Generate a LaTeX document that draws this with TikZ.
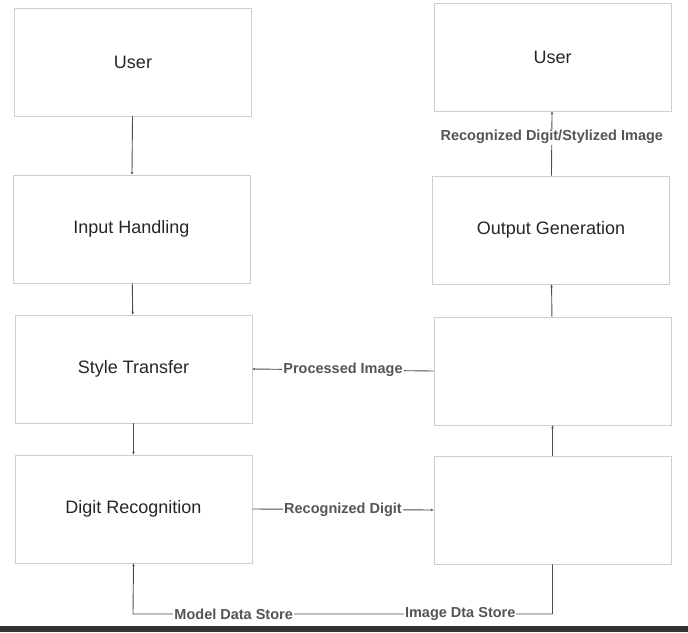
\documentclass[tikz,border=0pt]{standalone}
\usepackage{fontspec}
\setmainfont{Liberation Sans}
\usepackage{tikz}
\usetikzlibrary{arrows.meta, positioning}
\definecolor{BoxLine}{HTML}{CFCFCF}
\definecolor{FlowLine}{HTML}{4D4D4D}
\definecolor{FlowText}{HTML}{555555}
\definecolor{Band}{HTML}{333333}

\begin{document}
\begin{tikzpicture}[x=1pt, y=-1pt,
    block/.style={draw=BoxLine, line width=0.8pt, minimum width=237pt, minimum height=108pt,
                  font=\fontsize{18}{20}\selectfont, text=black!85},
    flow/.style={draw=FlowLine, line width=0.9pt, -{Stealth[length=3pt, width=2.5pt]}},
    tag/.style={fill=white, inner sep=1pt, text=FlowText, font=\bfseries\fontsize{14.5}{16}\selectfont}]
    \useasboundingbox (0,0) rectangle (688,632);
    % left column
    \node[block] (userA) at (133,62) {User};
    \node[block] (input) at (131.5,229) {Input Handling};
    \node[block] (style) at (133.5,369) {Style Transfer};
    \node[block] (digit) at (133.5,509) {Digit Recognition};
    % right column
    \node[block] (userB) at (552.5,57) {User};
    \node[block] (output) at (551,230) {Output Generation};
    \node[block] (procA) at (552.5,371) {};
    \node[block] (procB) at (552.5,510) {};
    % vertical flow
    \draw[flow] (userA) -- (input);
    \draw[flow] (input) -- (style);
    \draw[flow] (style) -- (digit);
    \draw[flow] (procB) -- (procA);
    \draw[flow] (procA) -- (output);
    \draw[flow] (output) -- node[tag, pos=0.6] {Recognized Digit/Stylized Image} (userB);
    % horizontal flow
    \draw[flow] (digit.east) -- node[tag] {Recognized Digit} (procB.west);
    \draw[flow] (procA.west) -- node[tag] {Processed Image} (style.east);
    % data stores along the bottom
    \coordinate (store) at (133,614);
    \draw[flow] (procB.south) |- node[tag, pos=0.61] {Image Dta Store}
        node[tag, pos=0.88] {Model Data Store} (store) -- (digit.south);
    % band at the lower edge
    \fill[Band] (0,626) rectangle (688,632);
\end{tikzpicture}
\end{document}
